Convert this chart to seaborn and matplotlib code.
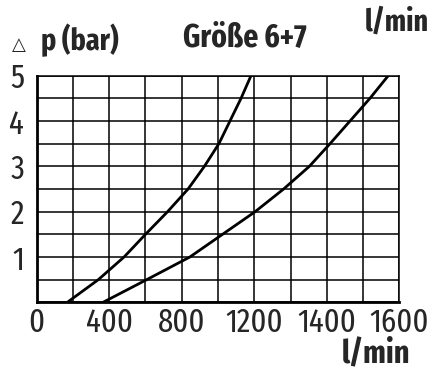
import matplotlib
matplotlib.use("Agg")
import matplotlib.pyplot as plt
import seaborn as sns
import pandas as pd
import numpy as np

# Data (flow in l/min, assuming 200 l/min per grid column)
dp_levels = [0, 0.5, 1.0, 1.5, 2.0, 2.5, 3.0, 3.5, 4.0, 4.5, 5.0]
flow_left = [169, 340, 482, 600, 722, 835, 925, 1005, 1066, 1127, 1182]
flow_right = [366, 607, 845, 1025, 1205, 1362, 1504, 1618, 1728, 1838, 1939]
x_tick_pos = [0, 400, 800, 1200, 1600, 2000]
x_tick_labels = ["0", "400", "800", "1200", "1400", "1600"]
y_ticks = [1, 2, 3, 4, 5]
title = "Größe 6+7"
y_title = "p (bar)"
unit_label = "l/min"

df = pd.DataFrame({
    "flow": flow_left + flow_right,
    "dp": dp_levels + dp_levels,
    "curve": ["a"] * len(flow_left) + ["b"] * len(flow_right),
})

sns.set_style("white")
plt.rcParams["font.family"] = ["Fira Sans Extra Condensed", "DejaVu Sans"]

W, H = 434, 371
fig = plt.figure(figsize=(W / 100, H / 100), dpi=100)
ax = fig.add_axes([36.7 / W, 1 - 302.3 / H, (399.3 - 36.7) / W, (302.3 - 75.7) / H])

sns.lineplot(data=df, x="flow", y="dp", units="curve", estimator=None, sort=False,
             color="black", lw=2.0, ax=ax, legend=False, zorder=5,
             solid_joinstyle="round", solid_capstyle="butt")

ax.set_xlim(0, 2000)
ax.set_ylim(0, 5)
ax.set_xticks(np.arange(0, 2001, 200), minor=True)
ax.set_yticks(np.arange(0, 5.01, 0.5), minor=True)
ax.set_xticks(x_tick_pos, x_tick_labels, fontsize=24)
ax.set_yticks(y_ticks, [str(v) for v in y_ticks], fontsize=24)
ax.tick_params(which="both", length=0)
ax.tick_params(axis="x", pad=3)
ax.tick_params(axis="y", pad=9)
ax.grid(which="both", color="black", lw=1.1)
ax.set_xlabel("")
ax.set_ylabel("")
for side, spine in ax.spines.items():
    spine.set_color("black")
    spine.set_linewidth(2.0 if side in ("left", "bottom") else 1.1)
    spine.set_visible(True)

def px(x, y):
    return x / W, 1 - y / H

fig.text(*px(19, 45), "△", family=["DejaVu Sans"], fontsize=13, ha="center", va="center")
fig.text(*px(41, 40), y_title, fontsize=22, fontweight="bold", ha="left", va="center")
fig.text(*px(245, 38), title, fontsize=23, fontweight="bold", ha="center", va="center")
fig.text(*px(429, 22), unit_label, fontsize=22, fontweight="bold", ha="right", va="center")
fig.text(*px(410, 354), unit_label, fontsize=23.5, fontweight="bold", ha="right", va="center")

fig.savefig("out.png", dpi=100)
